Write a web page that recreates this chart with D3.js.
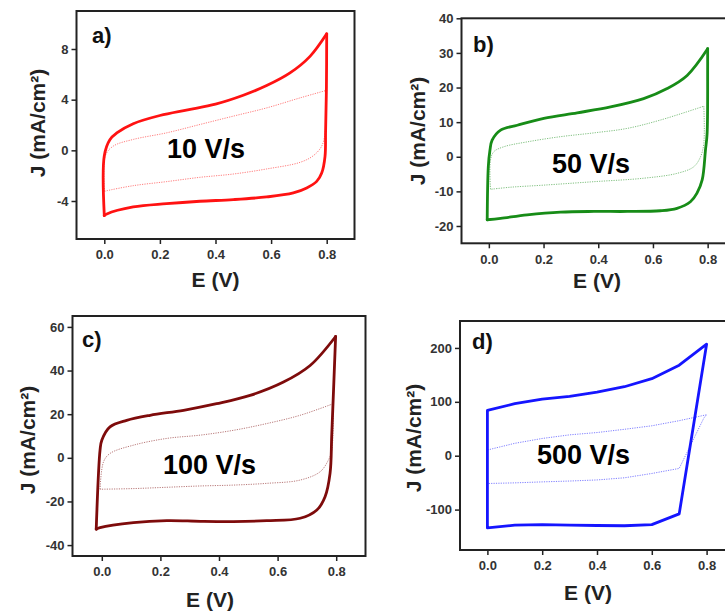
<!DOCTYPE html>
<html>
<head>
<meta charset="utf-8">
<script src="https://cdn.jsdelivr.net/npm/d3@7"></script>
<style>
  body { margin: 0; background: #fff; }
  text { font-family: "Liberation Sans", Arial, sans-serif; font-weight: bold; }
</style>
</head>
<body>
<svg></svg>
<script>
// The svg
let width = 725;
let height = 615;
const svg = d3.select("svg").attr("width", width).attr("height", height);

// x ticks shared by all panels
const eTicks = [0.0, 0.2, 0.4, 0.6, 0.8];

// y ticks per panel
const ticksA = [-4, 0, 4, 8];
const ticksB = [-20, -10, 0, 10, 20, 30, 40];
const ticksC = [-40, -20, 0, 20, 40, 60];
const ticksD = [-100, 0, 100, 200];

// CV loops: [E (V), J (mA/cm2)]
const loopA = [[0, -5.15], [0, -0.42], [0.02, 0.84], [0.045, 1.37], [0.104, 2.1], [0.2, 2.75], [0.3, 3.2],
  [0.4, 3.65], [0.5, 4.35], [0.584, 5.11], [0.668, 6.11], [0.74, 7.42], [0.8, 9.2],
  [0.799, 5], [0.796, 1.5], [0.794, -0.47], [0.782, -1.79], [0.764, -2.45], [0.728, -2.97], [0.68, -3.36],
  [0.584, -3.68], [0.464, -3.89], [0.344, -4.02], [0.224, -4.21], [0.104, -4.47], [0.009, -5.02], [0, -5.15]];
const innerA = [[0.001, -3.24], [0.004, -0.42], [0.032, 0.33], [0.104, 0.86], [0.224, 1.38], [0.344, 2.04],
  [0.464, 2.7], [0.584, 3.35], [0.704, 4.14], [0.8, 4.74], [0.796, 2.5], [0.794, 1.37], [0.782, 0.33],
  [0.752, -0.42], [0.704, -0.95], [0.584, -1.47], [0.464, -1.87], [0.344, -2.13], [0.224, -2.47],
  [0.104, -2.79], [0.009, -3.19], [0.001, -3.24]];

const loopB = [[-0.006, -18.2], [-0.002, -2.9], [0.004, 1.9], [0.012, 4.8], [0.043, 7.7], [0.104, 9.1],
  [0.201, 11.1], [0.323, 12.7], [0.445, 14.4], [0.566, 16.8], [0.652, 19.7], [0.725, 23.5], [0.8, 31.2],
  [0.8, 25.9], [0.798, 6.7], [0.792, 1.9], [0.78, -6.7], [0.761, -10.5], [0.737, -13.0], [0.688, -14.9],
  [0.627, -15.6], [0.506, -15.8], [0.384, -15.8], [0.262, -16.0], [0.14, -16.8], [0.043, -17.8], [-0.006, -18.2]];
const innerB = [[0.006, -9.4], [0.006, -0.96], [0.018, 1.45], [0.055, 2.9], [0.14, 4.3], [0.262, 5.8],
  [0.384, 6.9], [0.506, 8.2], [0.627, 10.6], [0.786, 14.6], [0.786, 3.9], [0.774, 0], [0.749, -2.9],
  [0.688, -4.8], [0.566, -6.2], [0.384, -7.2], [0.2, -8.2], [0.079, -8.8], [0.006, -9.4]];

const loopC = [[-0.019, -32.7], [-0.006, 3.5], [0, 8.1], [0.028, 14.2], [0.085, 17.2], [0.165, 19.5],
  [0.279, 21.8], [0.392, 24.8], [0.506, 28.6], [0.62, 34.7], [0.711, 42.3], [0.798, 55.6],
  [0.785, 11.1], [0.779, -7.1], [0.762, -17.8], [0.734, -23.9], [0.677, -27.7], [0.563, -28.8],
  [0.449, -29.2], [0.336, -29.1], [0.222, -28.8], [0.108, -29.7], [-0.006, -32], [-0.019, -32.7]];
const innerC = [[-0.006, -14.4], [0.006, -1.8], [0.028, 2.0], [0.108, 5.8], [0.222, 8.9], [0.336, 10.4],
  [0.449, 12.6], [0.563, 15.7], [0.677, 19.5], [0.79, 24.8], [0.785, 3.5], [0.773, -1.1], [0.745, -6.4],
  [0.677, -10.2], [0.563, -11.7], [0.449, -12.5], [0.336, -12.9], [0.222, -13.5], [0.108, -14.1], [-0.006, -14.4]];

const loopD = [[0, -134], [0, 84], [0.1, 96.6], [0.2, 105], [0.3, 110], [0.4, 118], [0.5, 128], [0.6, 143],
  [0.7, 168], [0.8, 207], [0.7, -108], [0.6, -128], [0.5, -130], [0.4, -129.5], [0.3, -129], [0.2, -128],
  [0.1, -129], [0, -134]];
const innerD = [[0, -51.6], [0, 10.6], [0.1, 23], [0.2, 32], [0.3, 38.7], [0.4, 43], [0.5, 49], [0.6, 55.5],
  [0.7, 65], [0.8, 76], [0.79, 70], [0.7, -23.6], [0.6, -33], [0.5, -41], [0.4, -45], [0.3, -47], [0.2, -48.6],
  [0.1, -50.4], [0, -51.6]];

const panels = [
  { label: "a)", rate: "10 V/s", color: "#ff1212", box: [76.5, 354.5, 11, 239], yDom: [-7, 11], yTicks: ticksA,
    loop: loopA, inner: innerA, smooth: true, lab: [92, 43], rt: [167, 158], ex: [215.5, 287], jy: [45, 123] },
  { label: "b)", rate: "50 V/s", color: "#178c17", box: [461.5, 735, 18.3, 243.3], yDom: [-25, 40], yTicks: ticksB,
    loop: loopB, inner: innerB, smooth: true, lab: [473, 52], rt: [552, 173], ex: [597, 288], jy: [425, 131] },
  { label: "c)", rate: "100 V/s", color: "#7e0b0b", box: [72.5, 365.5, 316, 556], yDom: [-45, 65], yTicks: ticksC,
    loop: loopC, inner: innerC, smooth: true, lab: [82, 347], rt: [163, 474], ex: [210, 607], jy: [35, 440] },
  { label: "d)", rate: "500 V/s", color: "#1515ff", box: [460, 734, 321, 550], yDom: [-175, 250], yTicks: ticksD,
    loop: loopD, inner: innerD, smooth: false, lab: [472, 349], rt: [537, 464], ex: [588, 600], jy: [421, 438] }
];

// cut a loop into pieces at its sharp corners so the spline does not overshoot there
function splitAtCorners(pts, x, y) {
  let pieces = [[pts[0]]];
  for (let i = 1; i < pts.length - 1; i++) {
    let a1 = Math.atan2(y(pts[i][1]) - y(pts[i - 1][1]), x(pts[i][0]) - x(pts[i - 1][0]));
    let a2 = Math.atan2(y(pts[i + 1][1]) - y(pts[i][1]), x(pts[i + 1][0]) - x(pts[i][0]));
    let turn = Math.abs(a2 - a1);
    if (turn > Math.PI) turn = 2 * Math.PI - turn;
    pieces[pieces.length - 1].push(pts[i]);
    if (turn > Math.PI / 3) pieces.push([pts[i]]);
  }
  pieces[pieces.length - 1].push(pts[pts.length - 1]);
  return pieces;
}

panels.forEach(function (p) {
  const [x0, x1, y0, y1] = p.box;
  let x = d3.scaleLinear().domain([-0.1, 0.9]).range([x0, x1]);
  let y = d3.scaleLinear().domain(p.yDom).range([y1, y0]);
  const g = svg.append("g");

  // axes
  const xAxis = d3.axisBottom(x).tickValues(eTicks).tickSize(5).tickPadding(6).tickFormat(d3.format(".1f"));
  const yAxis = d3.axisLeft(y).tickValues(p.yTicks).tickSize(5).tickPadding(3).tickFormat(d => String(d));
  g.append("g").attr("transform", "translate(0," + y1 + ")").call(xAxis);
  g.append("g").attr("transform", "translate(" + x0 + ",0)").call(yAxis);
  g.selectAll(".domain").remove();
  g.selectAll(".tick line").attr("stroke", "#222").attr("stroke-width", 1.5);
  g.selectAll(".tick text").attr("fill", "#333").style("font-size", "13px")
    .style("font-family", '"Liberation Sans", Arial, sans-serif').style("font-weight", "bold");

  // frame
  g.append("rect")
    .attr("x", x0).attr("y", y0)
    .attr("width", x1 - x0).attr("height", y1 - y0)
    .attr("fill", "none").attr("stroke", "#222").attr("stroke-width", 2);

  const line = d3.line()
    .x(d => x(d[0]))
    .y(d => y(d[1]))
    .curve(p.smooth ? d3.curveCatmullRom.alpha(0.5) : d3.curveLinear);

  // inner dotted loop
  g.selectAll("path.inner")
    .data(p.smooth ? splitAtCorners(p.inner, x, y) : [p.inner])
    .enter().append("path")
    .attr("class", "inner")
    .attr("d", line)
    .attr("fill", "none")
    .attr("stroke", p.color)
    .attr("stroke-width", 1)
    .attr("stroke-dasharray", "1.2 1.2")
    .attr("opacity", 0.55);

  // main loop
  g.selectAll("path.loop")
    .data(p.smooth ? splitAtCorners(p.loop, x, y) : [p.loop])
    .enter().append("path")
    .attr("class", "loop")
    .attr("d", line)
    .attr("fill", "none")
    .attr("stroke", p.color)
    .attr("stroke-width", 2.8)
    .attr("stroke-linejoin", "round")
    .attr("stroke-linecap", "round");

  // texts
  g.append("text").attr("x", p.lab[0]).attr("y", p.lab[1])
    .style("font-size", "22px").attr("fill", "#111").text(p.label);
  g.append("text").attr("x", p.rt[0]).attr("y", p.rt[1])
    .style("font-size", "27px").attr("fill", "#000").text(p.rate);
  g.append("text").attr("x", p.ex[0]).attr("y", p.ex[1])
    .attr("text-anchor", "middle")
    .style("font-size", "21px").attr("fill", "#222").text("E (V)");
  g.append("text")
    .attr("transform", "translate(" + p.jy[0] + "," + p.jy[1] + ") rotate(-90)")
    .attr("text-anchor", "middle")
    .style("font-size", "21px").attr("fill", "#222").text("J (mA/cm²)");
});
</script>
</body>
</html>
